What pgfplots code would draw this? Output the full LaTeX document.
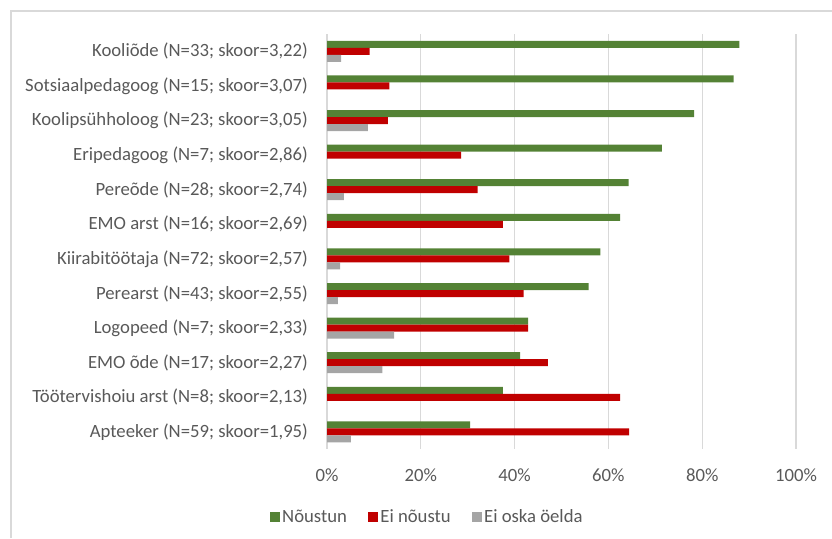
\documentclass[border=0pt]{standalone}
\usepackage{pgfplots}
\pgfplotsset{compat=1.18}
\usepackage{fontspec}
\setmainfont{Carlito}
\definecolor{cGreen}{HTML}{548235}
\definecolor{cRed}{HTML}{C00000}
\definecolor{cGray}{HTML}{A5A5A5}
\definecolor{cText}{HTML}{595959}
\definecolor{cGrid}{HTML}{D9D9D9}
\newcommand{\lblfont}{\fontsize{18.7}{22}\selectfont}
\begin{document}
\begin{tikzpicture}[x=1pt,y=1pt]
\path[use as bounding box] (0,0) rectangle (832,538);
\draw[cGrid, line width=1.5pt] (11,0) -- (11,527) -- (832,527);
\begin{axis}[
  at={(327pt,88.8pt)}, anchor=south west,
  scale only axis, width=469pt, height=415.2pt,
  xmin=0, xmax=100, ymin=-0.5, ymax=11.5, y dir=reverse,
  xbar, bar width=7pt,
  axis line style={draw=none},
  major tick length=0pt, tick style={draw=none},
  xmajorgrids, grid style={cGrid, line width=1.3pt},
  xtick={0,20,40,60,80,100},
  xticklabels={0\%,20\%,40\%,60\%,80\%,100\%},
  ytick={0,...,11},
  yticklabels={
    {Kooliõde (N=33; skoor=3,22)},
    {Sotsiaalpedagoog (N=15; skoor=3,07)},
    {Koolipsühholoog (N=23; skoor=3,05)},
    {Eripedagoog (N=7; skoor=2,86)},
    {Pereõde (N=28; skoor=2,74)},
    {EMO arst (N=16; skoor=2,69)},
    {Kiirabitöötaja (N=72; skoor=2,57)},
    {Perearst (N=43; skoor=2,55)},
    {Logopeed (N=7; skoor=2,33)},
    {EMO õde (N=17; skoor=2,27)},
    {Töötervishoiu arst (N=8; skoor=2,13)},
    {Apteeker (N=59; skoor=1,95)}},
  ticklabel style={font=\lblfont, text=cText, inner sep=0pt},
  yticklabel shift=19pt,
  xticklabel shift=19pt,
  legend columns=3,
  legend style={draw=none, font=\lblfont, text=cText,
    at={(axis description cs:-0.1215,0)}, anchor=west, yshift=-67.5pt,
    inner sep=0pt, outer sep=0pt,
    nodes={inner sep=2.2pt},
    /tikz/every even column/.append style={column sep=19pt}},
  legend image code/.code={\fill[#1,draw=none] (0pt,-5pt) rectangle (10pt,5pt);},
]
% agree
\addplot[fill=cGreen, draw=none, bar shift=7pt] coordinates {
  (87.9,0) (86.7,1) (78.3,2) (71.4,3) (64.3,4) (62.5,5)
  (58.3,6) (55.8,7) (42.9,8) (41.2,9) (37.5,10) (30.5,11)};
\addlegendentry{Nõustun}
% disagree
\addplot[fill=cRed, draw=none, bar shift=0pt] coordinates {
  (9.1,0) (13.3,1) (13.0,2) (28.6,3) (32.1,4) (37.5,5)
  (38.9,6) (41.9,7) (42.9,8) (47.1,9) (62.5,10) (64.4,11)};
\addlegendentry{Ei nõustu}
% cannot say
\addplot[fill=cGray, draw=none, bar shift=-7pt] coordinates {
  (3.0,0) (8.7,2) (3.6,4) (2.8,6) (2.3,7) (14.3,8) (11.8,9) (5.1,11)};
\addlegendentry{Ei oska öelda}
\end{axis}
\end{tikzpicture}
\end{document}
